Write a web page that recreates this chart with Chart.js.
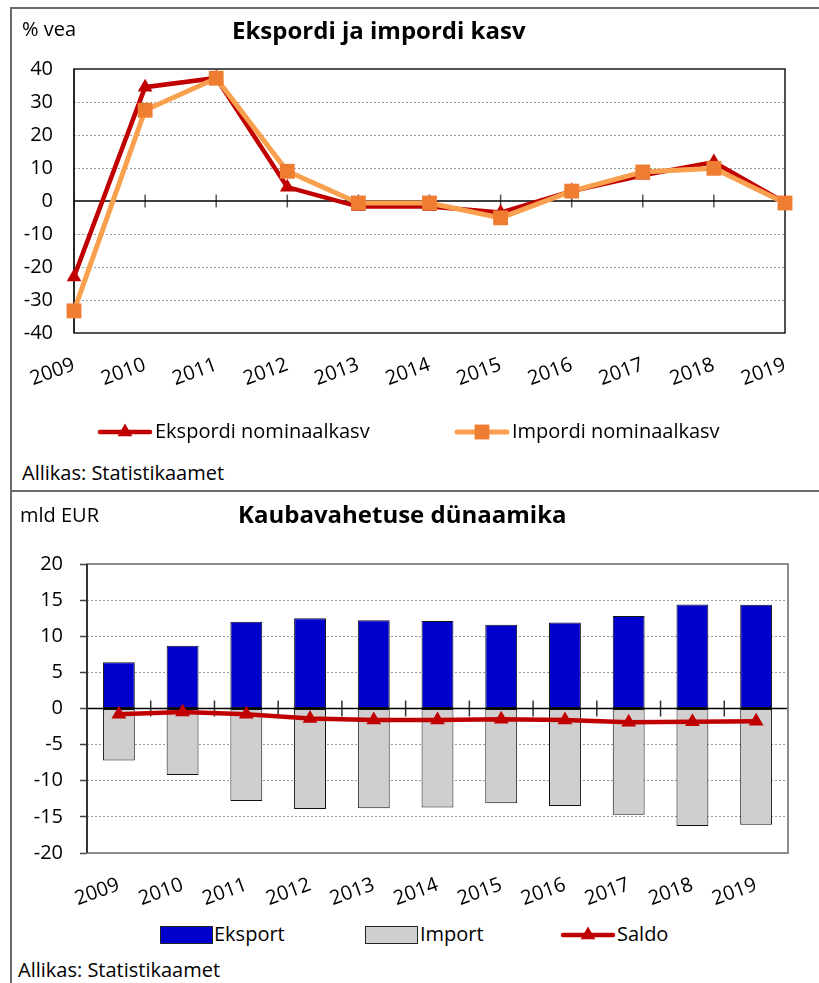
<!DOCTYPE html>
<html>
<head>
<meta charset="utf-8">
<script src="https://cdn.jsdelivr.net/npm/chart.js@4.4.1/dist/chart.umd.min.js"></script>
<style>
  body { margin: 0; background: #fff; font-family: "Open Sans", sans-serif; color: #000; }
  #page { position: relative; width: 819px; height: 983px; overflow: hidden; }
  .panel { position: absolute; left: 10px; width: 830px; border-top: 2px solid #6b6b6b; border-left: 2px solid #6b6b6b; }
  .lbl { position: absolute; font-size: 20px; line-height: 1; white-space: nowrap; }
  .ttl { position: absolute; font-size: 24px; font-weight: bold; line-height: 1; white-space: nowrap; }
  canvas { position: absolute; left: 0; }
</style>
</head>
<body>
<div id="page">
  <div class="panel" style="top:7px;height:490px"></div>
  <div class="panel" style="top:490px;height:500px"></div>

  <canvas id="growth" width="819" height="420" style="top:0"></canvas>
  <canvas id="trade" width="819" height="430" style="top:490px"></canvas>

  <div class="lbl" style="left:22px;top:19px">% vea</div>
  <div class="ttl" style="left:232px;top:18px">Ekspordi ja impordi kasv</div>
  <div class="lbl" style="left:22px;top:463px">Allikas: Statistikaamet</div>

  <div class="lbl" style="left:20px;top:505px">mld EUR</div>
  <div class="ttl" style="left:238px;top:502px">Kaubavahetuse dünaamika</div>
  <div class="lbl" style="left:18px;top:960px">Allikas: Statistikaamet</div>
</div>

<script>
// years on the category axis
const years = ['2009', '2010', '2011', '2012', '2013', '2014', '2015', '2016', '2017', '2018', '2019'];

// top chart: nominal growth, % y/y
const exportGrowth = [-23, 34.5, 37.3, 4.2, -1.7, -1.7, -3.5, 3, 7.8, 11.8, -0.5];
const importGrowth = [-33.3, 27.5, 37.2, 9, -0.6, -0.6, -5.1, 3, 8.8, 9.9, -0.6];
const growthMin = -40, growthMax = 40, growthStep = 10;

// bottom chart: trade, bn EUR
const exportValues = [6.4, 8.7, 12.0, 12.5, 12.2, 12.1, 11.6, 11.9, 12.8, 14.4, 14.35];
const importValues = [-7.2, -9.2, -12.8, -13.9, -13.8, -13.7, -13.1, -13.5, -14.7, -16.25, -16.1];
const saldoValues = [-0.8, -0.5, -0.8, -1.4, -1.6, -1.6, -1.5, -1.6, -1.9, -1.85, -1.75];
const tradeMin = -20, tradeMax = 20, tradeStep = 5;

const RED = '#C00000';
const ORANGE_LINE = '#F9A04E';
const ORANGE_MARK = '#EE7D31';
const BLUE = '#0000CC';
const GREY = '#D0CECE';

Chart.defaults.font.family = '"Open Sans", sans-serif';
Chart.defaults.font.size = 20;
Chart.defaults.color = '#000';

// legend symbols, drawn on small canvases
function sample(w, h, draw) {
  const c = document.createElement('canvas');
  c.width = w;
  c.height = h;
  draw(c.getContext('2d'), w, h);
  return c;
}

function lineSample(color, width, markColor, style, radius) {
  return sample(56, 20, (ctx, w, h) => {
    ctx.strokeStyle = color;
    ctx.lineWidth = width;
    ctx.lineCap = 'round';
    ctx.beginPath();
    ctx.moveTo(3, h / 2);
    ctx.lineTo(w - 3, h / 2);
    ctx.stroke();
    ctx.fillStyle = markColor;
    Chart.helpers.drawPoint(ctx, { pointStyle: style, radius: radius, borderWidth: 0 }, w / 2, h / 2);
  });
}

function boxSample(fill) {
  return sample(53, 18, (ctx, w, h) => {
    ctx.fillStyle = fill;
    ctx.fillRect(0.5, 0.5, w - 1, h - 1);
    ctx.strokeStyle = '#222';
    ctx.lineWidth = 1;
    ctx.strokeRect(0.5, 0.5, w - 1, h - 1);
  });
}

function legend(items, cy) {
  const page = document.getElementById('page');
  items.forEach(it => {
    it.symbol.style.left = it.x + 'px';
    it.symbol.style.top = (cy - it.symbol.height / 2) + 'px';
    page.appendChild(it.symbol);
    const t = document.createElement('div');
    t.className = 'lbl';
    t.textContent = it.text;
    t.style.left = it.tx + 'px';
    t.style.top = (cy - 10.6) + 'px';
    page.appendChild(t);
  });
}

// plot frame, solid zero line and the small tick marks that cross it
const frame = {
  id: 'frame',
  beforeDatasetsDraw(chart, args, opts) {
    const { ctx, chartArea: a, scales } = chart;
    const y0 = scales.y.getPixelForValue(0);
    ctx.save();
    ctx.strokeStyle = opts.tickColor;
    ctx.lineWidth = 1.5;
    opts.tickValues.forEach(v => {
      const x = scales.x.getPixelForValue(v);
      ctx.beginPath();
      ctx.moveTo(x, y0 - opts.tickLen);
      ctx.lineTo(x, y0 + opts.tickLen);
      ctx.stroke();
    });
    ctx.strokeStyle = '#000';
    ctx.lineWidth = 1.5;
    ctx.beginPath();
    ctx.moveTo(a.left, y0);
    ctx.lineTo(a.right, y0);
    ctx.stroke();
    ctx.strokeStyle = opts.color;
    ctx.lineWidth = opts.width;
    ctx.strokeRect(a.left, a.top, a.width, a.height);
    ctx.strokeStyle = opts.leftColor;
    ctx.beginPath();
    ctx.moveTo(a.left, a.top);
    ctx.lineTo(a.left, a.bottom);
    ctx.stroke();
    ctx.restore();
  }
};

function gridColor(min, max) {
  return c => (c.tick.value === 0 || c.tick.value === min || c.tick.value === max) ? 'transparent' : '#9a9a9a';
}

new Chart('growth', {
  type: 'line',
  data: {
    labels: years,
    datasets: [
      {
        label: 'Impordi nominaalkasv',
        data: importGrowth,
        borderColor: ORANGE_LINE,
        borderWidth: 5,
        pointStyle: 'rect',
        pointRadius: 10.5,
        pointBackgroundColor: ORANGE_MARK,
        pointBorderWidth: 0,
        clip: false
      },
      {
        label: 'Ekspordi nominaalkasv',
        data: exportGrowth,
        borderColor: RED,
        borderWidth: 4.5,
        pointStyle: 'triangle',
        pointRadius: 8.5,
        pointBackgroundColor: RED,
        pointBorderWidth: 0,
        clip: false
      }
    ]
  },
  options: {
    responsive: false,
    animation: false,
    events: [],
    layout: { padding: { top: 69, right: 34, left: 0, bottom: 17 } },
    scales: {
      x: {
        offset: false,
        grid: { display: false },
        border: { display: false },
        ticks: { minRotation: 20, maxRotation: 20, padding: 12, autoSkip: false },
        afterFit(s) { s.height = 70; }
      },
      y: {
        min: growthMin,
        max: growthMax,
        grid: { color: gridColor(growthMin, growthMax), drawTicks: false, lineWidth: 1 },
        border: { display: false, dash: [2, 2] },
        ticks: { stepSize: growthStep, padding: 21 },
        afterFit(s) { s.width = 74; }
      }
    },
    plugins: {
      frame: { color: '#1a1a1a', leftColor: '#1a1a1a', width: 1.5, tickColor: '#555', tickLen: 6.5, tickValues: years.map((y, i) => i) },
      tooltip: { enabled: false },
      legend: { display: false }
    }
  },
  plugins: [frame]
});

new Chart('trade', {
  type: 'bar',
  data: {
    labels: years,
    datasets: [
      {
        type: 'line',
        label: 'Saldo',
        data: saldoValues,
        borderColor: RED,
        borderWidth: 4.5,
        pointStyle: 'triangle',
        pointRadius: 8.5,
        pointBackgroundColor: RED,
        pointBorderWidth: 0,
        clip: false
      },
      {
        label: 'Eksport',
        data: exportValues,
        backgroundColor: BLUE,
        borderColor: '#111',
        borderWidth: 1,
        borderSkipped: false
      },
      {
        label: 'Import',
        data: importValues,
        backgroundColor: GREY,
        borderColor: '#111',
        borderWidth: 1,
        borderSkipped: false
      }
    ]
  },
  options: {
    responsive: false,
    animation: false,
    events: [],
    categoryPercentage: 0.5,
    barPercentage: 1,
    layout: { padding: { top: 74, right: 31, left: 0, bottom: 7 } },
    scales: {
      x: {
        stacked: true,
        grid: { display: false },
        border: { display: false },
        ticks: { minRotation: 20, maxRotation: 20, padding: 12, autoSkip: false },
        afterFit(s) { s.height = 60; }
      },
      y: {
        min: tradeMin,
        max: tradeMax,
        grid: { color: gridColor(tradeMin, tradeMax), tickColor: '#444', tickLength: 7, tickWidth: 1.5, lineWidth: 1 },
        border: { display: false, dash: [2, 2] },
        ticks: { stepSize: tradeStep, padding: 17 },
        afterFit(s) { s.width = 87; }
      }
    },
    plugins: {
      frame: { color: '#8c8c8c', leftColor: '#333', width: 2, tickColor: '#333', tickLen: 8, tickValues: years.map((y, i) => i - 0.5).concat([years.length - 0.5]) },
      tooltip: { enabled: false },
      legend: { display: false }
    }
  },
  plugins: [frame]
});

legend([
  { text: 'Ekspordi nominaalkasv', symbol: lineSample(RED, 4.5, RED, 'triangle', 8.5), x: 97, tx: 155 },
  { text: 'Impordi nominaalkasv', symbol: lineSample(ORANGE_LINE, 5, ORANGE_MARK, 'rect', 10.5), x: 454, tx: 512 }
], 432);

legend([
  { text: 'Eksport', symbol: boxSample(BLUE), x: 160, tx: 214 },
  { text: 'Import', symbol: boxSample(GREY), x: 365, tx: 420 },
  { text: 'Saldo', symbol: lineSample(RED, 4.5, RED, 'triangle', 8.5), x: 560, tx: 617 }
], 935);
</script>
</body>
</html>
